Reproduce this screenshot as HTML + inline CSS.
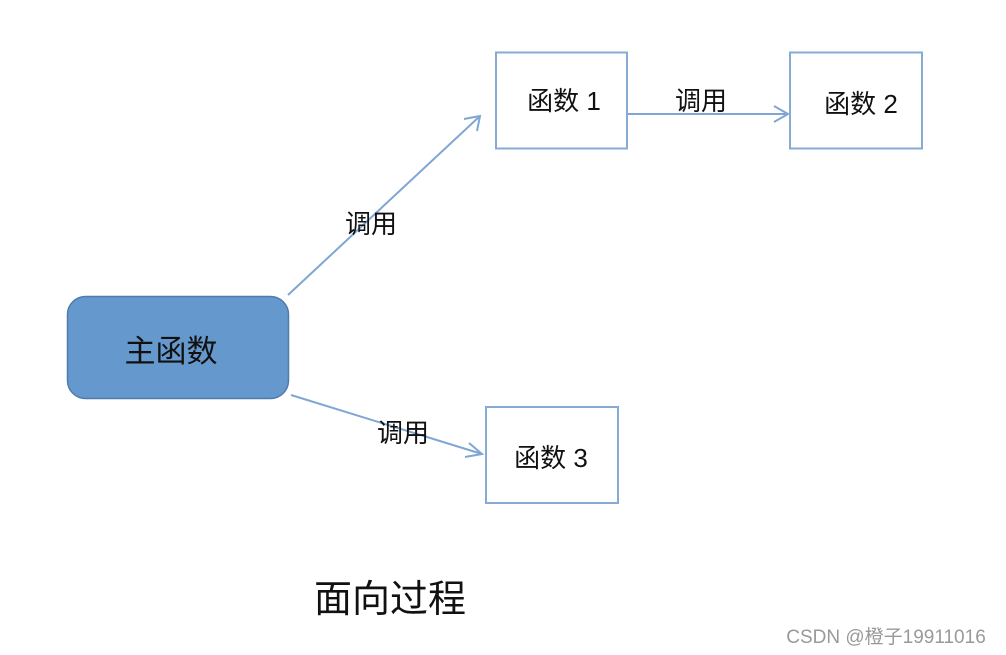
<!DOCTYPE html>
<html><head><meta charset="utf-8"><style>
body{margin:0;width:1006px;height:655px;background:#fff;overflow:hidden;position:relative;font-family:"Liberation Sans","Noto Sans CJK SC",sans-serif;}
svg{position:absolute;left:0;top:0}
</style></head><body>
<svg width="1006" height="655" xmlns="http://www.w3.org/2000/svg" font-family="Liberation Sans, Noto Sans CJK SC, sans-serif">
<rect x="67.5" y="296.5" width="221" height="102" rx="18" fill="#6598cc" stroke="#4f7bae" stroke-width="1.5"/>
<text x="171" y="362" font-size="31" text-anchor="middle" fill="#111">主函数</text>
<rect x="496" y="52.5" width="131" height="96" fill="#fff" stroke="#88abd6" stroke-width="2"/>
<rect x="790" y="52.5" width="132" height="96" fill="#fff" stroke="#88abd6" stroke-width="2"/>
<rect x="486" y="407" width="132" height="96" fill="#fff" stroke="#88abd6" stroke-width="2"/>
<text x="564" y="110" font-size="26" text-anchor="middle" fill="#111">函数 1</text>
<text x="861" y="113" font-size="26" text-anchor="middle" fill="#111">函数 2</text>
<text x="551" y="467" font-size="26" text-anchor="middle" fill="#111">函数 3</text>
<g stroke="#7fa6d4" stroke-width="2" fill="none">
<line x1="288" y1="295" x2="480" y2="116"/>
<polyline points="464,119 480,116 477,131"/>
<line x1="628" y1="114" x2="788" y2="114"/>
<polyline points="774,106 788,114 774,122"/>
<line x1="291" y1="395" x2="482" y2="454"/>
<polyline points="469,443 482,454 465,457"/>
</g>
<text x="371" y="233" font-size="26" text-anchor="middle" fill="#111">调用</text>
<text x="701" y="110" font-size="26" text-anchor="middle" fill="#111">调用</text>
<text x="403" y="442" font-size="26" text-anchor="middle" fill="#111">调用</text>
<text x="390" y="612" font-size="38" text-anchor="middle" fill="#111">面向过程</text>
<text x="886" y="643" font-size="19" text-anchor="middle" fill="#999">CSDN @橙子19911016</text>
</svg>
</body></html>
